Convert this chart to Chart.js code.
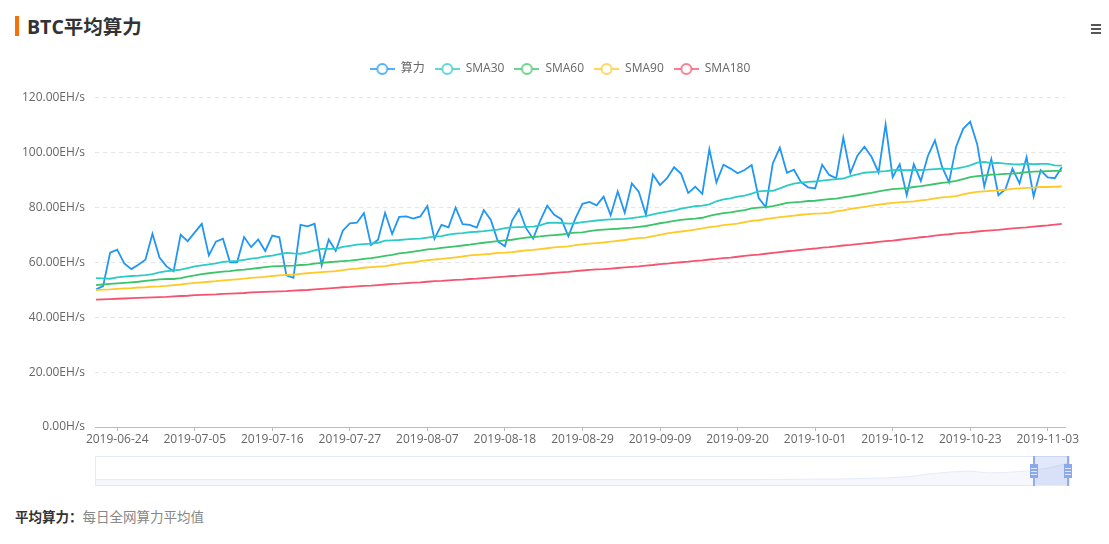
<!DOCTYPE html>
<html>
<head>
<meta charset="utf-8">
<script src="https://cdn.jsdelivr.net/npm/chart.js@4"></script>
<style>
    html, body { margin: 0; padding: 0; background: #fff; overflow: hidden; width: 1109px; height: 544px; }
    body { position: relative; font-family: "Open Sans", "Noto Sans CJK SC", sans-serif; }
    .abs { position: absolute; }
    #title { left: 27px; top: 13px; font-size: 19.5px; line-height: 28px; font-weight: 700; color: #333; }
    #titleBar { left: 15px; top: 16px; width: 4px; height: 20px; background: #f56f0a; }
    .menu { left: 1091px; width: 10px; height: 2px; background: #555; }
    #mainChart { left: 0; top: 40px; }
    #zoomBox { left: 95px; top: 456px; width: 973px; height: 28px; border: 1px solid #e3e9f8; box-sizing: content-box; }
    #zoomChart { left: 96px; top: 457px; }
    #zoomSel { left: 1034px; top: 456px; width: 34px; height: 29px; background: rgba(90, 130, 225, 0.18); }
    .edge { top: 456px; width: 2px; height: 30px; background: #93ade9; }
    .handle { top: 464px; width: 8px; height: 14px; background: #8ba8ea; }
    .handle i { position: absolute; left: 1px; width: 6px; height: 1px; background: #dfe7fa; }
    #note { left: 15px; top: 507px; font-size: 13.5px; line-height: 20px; color: #888; }
    #note b { color: #333; }
</style>
</head>
<body>
<div class="abs" id="titleBar"></div>
<div class="abs" id="title">BTC平均算力</div>
<div class="abs menu" style="top:24px"></div>
<div class="abs menu" style="top:28px"></div>
<div class="abs menu" style="top:32px"></div>

<canvas class="abs" id="mainChart" width="1109" height="420"></canvas>

<div class="abs" id="zoomBox"></div>
<canvas class="abs" id="zoomChart" width="972" height="28"></canvas>
<div class="abs" id="zoomSel"></div>
<div class="abs edge" style="left:1033px"></div>
<div class="abs edge" style="left:1067px"></div>
<div class="abs handle" style="left:1030px"><i style="top:4px"></i><i style="top:7px"></i><i style="top:10px"></i></div>
<div class="abs handle" style="left:1064px"><i style="top:4px"></i><i style="top:7px"></i><i style="top:10px"></i></div>

<div class="abs" id="note"><b>平均算力：</b>每日全网算力平均值</div>

<script>
const tickIndexes = [3, 14, 25, 36, 47, 58, 69, 80, 91, 102, 113, 124, 135];
const tickLabels = ['2019-06-24', '2019-07-05', '2019-07-16', '2019-07-27', '2019-08-07', '2019-08-18', '2019-08-29',
    '2019-09-09', '2019-09-20', '2019-10-01', '2019-10-12', '2019-10-23', '2019-11-03'];

const seriesNames = ['算力', 'SMA30', 'SMA60', 'SMA90', 'SMA180'];
const seriesColors = ['#2196f3', '#2ccbc6', '#3cc46a', '#ffc928', '#f5536e'];

const hashrate = [
    50.1, 51.3, 63.5, 64.6, 59.6, 57.5, 59.1, 60.9, 70.4, 61.7,
    58.5, 56.7, 70.0, 67.7, 70.9, 74.0, 62.5, 67.5, 68.6, 60.0,
    60.0, 69.2, 65.5, 68.3, 64.1, 69.7, 69.1, 55.2, 54.3, 73.6,
    73.1, 74.0, 58.9, 68.3, 64.1, 71.5, 74.2, 74.4, 77.9, 66.3,
    68.2, 78.0, 70.3, 76.5, 76.7, 75.9, 76.7, 80.5, 68.5, 73.6,
    72.7, 79.9, 73.9, 73.6, 72.6, 79.0, 75.4, 67.6, 65.8, 75.1,
    79.3, 72.4, 68.6, 75.1, 80.6, 77.3, 75.7, 69.4, 76.0, 81.3,
    82.0, 80.7, 83.9, 77.1, 85.8, 78.0, 88.7, 85.6, 77.3, 91.9,
    88.1, 90.6, 94.6, 92.2, 85.2, 87.5, 84.9, 101.2, 89.1, 95.5,
    94.1, 92.4, 93.6, 95.4, 83.4, 80.1, 96.0, 101.7, 92.6, 93.7,
    89.2, 87.3, 86.9, 95.5, 91.8, 90.6, 105.4, 92.5, 98.8, 102.1,
    98.4, 92.7, 110.2, 91.0, 95.7, 84.4, 95.7, 89.6, 98.7, 104.4,
    94.8, 89.1, 102.1, 108.6, 111.2, 102.9, 87.6, 97.6, 84.4, 86.6,
    94.1, 88.7, 98.3, 84.0, 93.5, 90.9, 90.6, 94.6
];
const sma30 = [
    54.2, 54.1, 54.0, 54.5, 54.8, 55.0, 55.1, 55.3, 55.7, 56.3,
    56.8, 57.0, 57.3, 57.9, 58.5, 58.9, 59.2, 59.6, 60.1, 60.3,
    60.5, 60.9, 61.3, 61.6, 62.1, 62.4, 63.0, 63.4, 63.2, 63.1,
    63.6, 64.3, 64.9, 64.9, 64.9, 65.6, 66.0, 66.4, 66.6, 66.8,
    67.1, 67.9, 68.0, 68.1, 68.3, 68.5, 68.6, 69.0, 69.3, 69.5,
    70.1, 70.4, 70.6, 71.0, 71.1, 71.3, 71.6, 71.9, 72.4, 72.7,
    72.8, 72.9, 73.0, 73.4, 74.3, 74.4, 74.3, 74.1, 74.2, 74.6,
    74.9, 75.2, 75.4, 75.6, 75.7, 75.8, 76.1, 76.4, 76.8, 77.4,
    78.0, 78.4, 78.9, 79.5, 80.0, 80.4, 80.6, 81.1, 82.2, 82.9,
    83.3, 83.9, 84.3, 85.0, 85.8, 86.0, 86.0, 86.9, 87.9, 88.6,
    89.0, 89.3, 89.4, 89.7, 90.0, 90.3, 90.5, 91.4, 92.0, 92.6,
    92.8, 93.0, 93.2, 93.5, 93.6, 93.5, 93.6, 93.6, 93.7, 93.9,
    94.1, 94.0, 94.1, 94.6, 95.3, 96.3, 96.5, 96.1, 96.2, 95.9,
    95.7, 95.6, 95.9, 95.7, 95.8, 95.8, 95.3, 95.2
];
const sma60 = [
    51.7, 51.9, 52.1, 52.3, 52.5, 52.7, 52.9, 53.2, 53.5, 53.8,
    53.9, 53.9, 54.2, 54.8, 55.2, 55.7, 56.0, 56.3, 56.6, 56.8,
    57.1, 57.3, 57.6, 57.9, 58.2, 58.5, 58.6, 58.7, 58.8, 59.0,
    59.1, 59.5, 59.8, 60.0, 60.2, 60.4, 60.6, 60.9, 61.2, 61.5,
    61.9, 62.3, 62.7, 63.2, 63.5, 63.9, 64.2, 64.7, 64.9, 65.2,
    65.5, 65.8, 66.1, 66.4, 66.8, 67.1, 67.4, 67.7, 68.0, 68.2,
    68.6, 69.0, 69.2, 69.4, 69.7, 69.9, 70.1, 70.5, 70.8, 70.9,
    71.3, 71.7, 71.9, 72.1, 72.2, 72.4, 72.6, 72.9, 73.2, 73.7,
    74.2, 74.6, 75.1, 75.4, 75.7, 75.9, 76.2, 76.9, 77.4, 77.9,
    78.2, 78.6, 79.0, 79.6, 79.9, 80.1, 80.4, 81.0, 81.6, 81.8,
    82.0, 82.3, 82.4, 82.7, 83.0, 83.2, 83.6, 84.0, 84.4, 84.9,
    85.3, 85.8, 86.3, 86.6, 86.8, 87.0, 87.4, 87.7, 88.1, 88.5,
    88.9, 89.2, 89.6, 90.3, 91.0, 91.4, 91.6, 91.9, 92.0, 92.2,
    92.3, 92.5, 92.8, 93.0, 93.1, 93.2, 93.3, 93.3
];
const sma90 = [
    49.9, 50.0, 50.1, 50.3, 50.5, 50.6, 50.8, 50.9, 51.1, 51.2,
    51.4, 51.7, 51.9, 52.2, 52.5, 52.7, 52.9, 53.1, 53.4, 53.6,
    53.8, 54.0, 54.3, 54.5, 54.7, 55.0, 55.2, 55.4, 55.5, 55.8,
    56.0, 56.2, 56.4, 56.6, 56.8, 57.1, 57.5, 57.7, 58.0, 58.2,
    58.4, 58.6, 59.0, 59.4, 59.8, 60.0, 60.4, 60.8, 61.0, 61.2,
    61.5, 61.8, 62.1, 62.5, 62.7, 62.9, 63.1, 63.4, 63.5, 63.7,
    64.0, 64.3, 64.5, 64.8, 65.1, 65.4, 65.6, 65.8, 66.2, 66.5,
    66.8, 67.0, 67.2, 67.5, 67.8, 68.1, 68.5, 68.8, 69.0, 69.5,
    70.0, 70.5, 70.9, 71.2, 71.5, 71.9, 72.3, 72.8, 73.1, 73.5,
    73.8, 74.1, 74.6, 75.1, 75.3, 75.7, 76.1, 76.4, 76.7, 77.0,
    77.3, 77.5, 77.7, 77.8, 78.0, 78.5, 78.9, 79.4, 79.8, 80.2,
    80.6, 81.0, 81.3, 81.6, 81.8, 82.0, 82.2, 82.5, 82.8, 83.3,
    83.6, 83.8, 84.1, 84.7, 85.3, 85.6, 85.8, 86.0, 86.2, 86.4,
    86.7, 86.9, 87.1, 87.2, 87.4, 87.4, 87.5, 87.6
];
const sma180 = [
    46.4, 46.5, 46.6, 46.7, 46.8, 46.9, 47.0, 47.1, 47.2, 47.3,
    47.4, 47.6, 47.7, 47.8, 48.0, 48.1, 48.2, 48.3, 48.5, 48.6,
    48.7, 48.8, 49.0, 49.1, 49.2, 49.3, 49.4, 49.5, 49.7, 49.8,
    49.9, 50.1, 50.3, 50.5, 50.7, 50.9, 51.0, 51.2, 51.4, 51.5,
    51.7, 51.9, 52.1, 52.2, 52.4, 52.6, 52.7, 52.9, 53.1, 53.2,
    53.4, 53.6, 53.7, 53.9, 54.0, 54.2, 54.4, 54.6, 54.8, 55.0,
    55.1, 55.3, 55.5, 55.7, 55.9, 56.1, 56.3, 56.5, 56.8, 57.0,
    57.2, 57.4, 57.5, 57.7, 57.9, 58.1, 58.3, 58.5, 58.8, 59.0,
    59.3, 59.5, 59.8, 60.0, 60.2, 60.5, 60.7, 61.0, 61.2, 61.5,
    61.7, 62.0, 62.3, 62.6, 62.8, 63.1, 63.4, 63.7, 64.0, 64.2,
    64.5, 64.8, 65.0, 65.3, 65.5, 65.8, 66.1, 66.3, 66.6, 66.9,
    67.1, 67.4, 67.7, 67.9, 68.2, 68.5, 68.8, 69.1, 69.3, 69.7,
    70.0, 70.2, 70.5, 70.7, 70.9, 71.2, 71.4, 71.6, 71.8, 72.1,
    72.3, 72.5, 72.7, 73.0, 73.2, 73.4, 73.7, 74.0
];
const seriesValues = [hashrate, sma30, sma60, sma90, sma180];

// whole-history shadow in the slider under the chart
const overviewValues = [
    27, 27, 27, 27, 27, 27, 27, 27, 27, 27,
    27, 27, 27, 27, 27, 27, 27, 27, 27, 27,
    27, 27, 27, 27, 27, 27, 27, 27, 27, 27,
    27, 27, 27, 27, 28, 28, 29, 29, 31, 33,
    36, 42, 55, 64, 69, 60, 63, 70, 84, 108
];

// legend symbol: short line with a hollow circle on it
function legendSymbol(color) {
    const c = document.createElement('canvas');
    c.width = 25;
    c.height = 14;
    const g = c.getContext('2d');
    g.globalAlpha = 0.75;
    g.strokeStyle = color;
    g.lineWidth = 2;
    g.beginPath();
    g.moveTo(0, 7);
    g.lineTo(25, 7);
    g.stroke();
    g.globalAlpha = 1;
    g.fillStyle = '#fff';
    g.beginPath();
    g.arc(12.5, 7, 5.5, 0, Math.PI * 2);
    g.fill();
    g.globalAlpha = 0.75;
    g.beginPath();
    g.arc(12.5, 7, 5, 0, Math.PI * 2);
    g.stroke();
    return c;
}

// legend sits higher above the plot and further right than Chart.js would put it
const legendPlacement = {
    id: 'legendPlacement',
    beforeInit(chart) {
        const fit = chart.legend.fit;
        chart.legend.fit = function () {
            fit.call(this);
            this.height = 44.5;
        };
    },
    afterLayout(chart) {
        chart.legend.left += 27.5;
        chart.legend.right += 27.5;
    }
};

const fontFamily = '"Open Sans", "Noto Sans CJK SC", sans-serif';

new Chart(document.getElementById('mainChart'), {
    type: 'line',
    data: {
        datasets: seriesNames.map((name, i) => ({
            label: name,
            data: seriesValues[i].map((y, x) => ({ x, y })),
            borderColor: seriesColors[i],
            borderWidth: 1.8,
            pointRadius: 0,
            tension: 0,
            fill: false,
            order: seriesNames.length - i
        }))
    },
    options: {
        responsive: false,
        animation: false,
        layout: { padding: { top: 13, right: 44, left: 0, bottom: 0 } },
        plugins: {
            tooltip: { enabled: false },
            legend: {
                position: 'top',
                labels: {
                    usePointStyle: true,
                    pointStyleWidth: 25,
                    padding: 10,
                    color: '#666',
                    font: { family: fontFamily, size: 12 },
                    generateLabels: () => seriesNames.map((name, i) => ({
                        text: name,
                        pointStyle: legendSymbol(seriesColors[i]),
                        fontColor: '#666',
                        lineWidth: 0,
                        datasetIndex: i
                    }))
                }
            }
        },
        scales: {
            x: {
                type: 'linear',
                min: -0.15,
                max: 137.45,
                afterBuildTicks: (scale) => {
                    scale.ticks = tickIndexes.map(value => ({ value }));
                },
                afterFit: (scale) => { scale.height = 33; },
                border: { color: '#bbb', dash: [3, 2] },
                grid: { drawOnChartArea: false, tickLength: 4, tickColor: '#bbb' },
                ticks: {
                    autoSkip: false,
                    maxRotation: 0,
                    padding: 1,
                    color: '#666',
                    font: { family: fontFamily, size: 12 },
                    callback: (value) => tickLabels[tickIndexes.indexOf(value)]
                }
            },
            y: {
                min: 0,
                max: 120,
                afterFit: (scale) => { scale.width = 95; },
                border: { display: false, dash: [4, 4] },
                grid: { color: '#e4e4e4', drawTicks: false },
                ticks: {
                    stepSize: 20,
                    padding: 10,
                    color: '#666',
                    font: { family: fontFamily, size: 12 },
                    callback: (v) => v === 0 ? '0.00H/s' : v.toFixed(2) + 'EH/s'
                }
            }
        }
    },
    plugins: [legendPlacement]
});

new Chart(document.getElementById('zoomChart'), {
    type: 'line',
    data: {
        labels: overviewValues.map((v, i) => i),
        datasets: [{
            data: overviewValues,
            borderColor: '#e6ebf9',
            backgroundColor: '#f5f7fd',
            borderWidth: 1,
            pointRadius: 0,
            tension: 0,
            fill: 'origin'
        }]
    },
    options: {
        responsive: false,
        animation: false,
        plugins: { legend: { display: false }, tooltip: { enabled: false } },
        scales: {
            x: { display: false },
            y: { display: false, min: 0, max: 139 }
        }
    }
});
</script>
</body>
</html>
